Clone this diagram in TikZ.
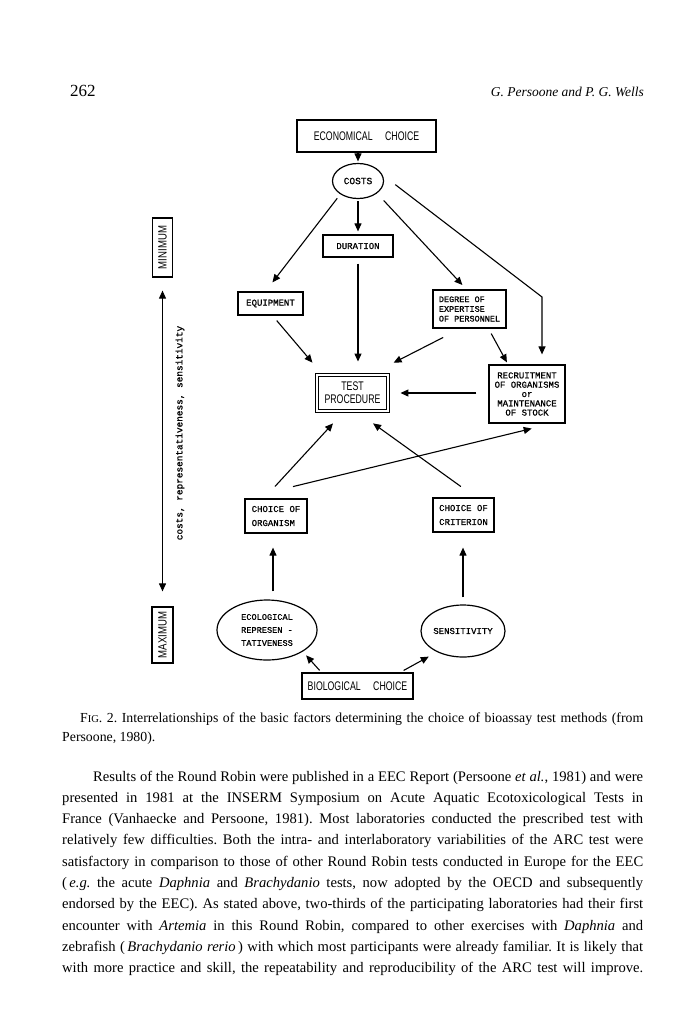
\documentclass[tikz,border=0pt]{standalone}
\usepackage{graphicx}
\usepackage{fontspec}
\setmainfont{Liberation Serif}
\newfontfamily\tw[FakeBold=1]{Liberation Mono}
\newfontfamily\cond[FakeStretch=0.7]{Liberation Sans}
\newfontfamily\condb[FakeStretch=0.8]{Liberation Sans}
\usetikzlibrary{arrows.meta,shapes.geometric}
\frenchspacing
\begin{document}
\begin{tikzpicture}[x=1pt,y=-1pt,
  box/.style={draw, line width=1.2pt, rectangle, inner sep=0pt},
  oval/.style={draw, line width=1.2pt, ellipse, inner sep=0pt},
  ln/.style={line width=1.1pt},
  arr/.style={ln, -{Triangle[length=8pt,width=7pt]}},
  darr/.style={line width=1pt, {Triangle[length=8pt,width=7pt]}-{Triangle[length=8pt,width=7pt]}},
  sanstext/.style={font=\cond\fontsize{12.5}{13}\selectfont},
  twtext/.style={font=\tw\fontsize{9}{9.3}\selectfont},
  txt/.style={anchor=base west, inner sep=0pt, font=\frenchspacing\fontsize{14.6}{16}\selectfont},
  captext/.style={anchor=base west, inner sep=0pt, font=\frenchspacing\fontsize{13.8}{15}\selectfont}]
\useasboundingbox (0,0) rectangle (690,1020);

% header
\node[anchor=base west, inner sep=0pt, font=\fontsize{17}{18}\selectfont] (pg) at (70,96) {262};
\node[anchor=base east, inner sep=0pt, font=\itshape\fontsize{13.5}{15}\selectfont] (auth) at (644,96) {G. Persoone and P. G. Wells};

% nodes
\node[box, sanstext, minimum width=139pt, minimum height=32pt] (econ) at (366.5,136) {ECONOMICAL\quad CHOICE};
\node[oval, minimum width=51pt, minimum height=35pt, font=\tw\fontsize{9.5}{10}\selectfont] (costs) at (358,181) {COSTS};
\node[box, twtext, minimum width=70pt, minimum height=22pt] (dur) at (358,246) {DURATION};
\node[box, twtext, minimum width=65pt, minimum height=23pt] (equip) at (270.5,303.5) {EQUIPMENT};
\node[box, minimum width=73pt, minimum height=38pt, align=left, font=\tw\fontsize{8.5}{9.7}\selectfont] (deg) at (469.5,309) {DEGREE OF\\EXPERTISE\\OF PERSONNEL};
\node[draw, double, double distance=1.8pt, line width=0.9pt, inner sep=0pt, minimum width=71pt, minimum height=36pt, align=center, sanstext] (test) at (352.5,393) {TEST\\PROCEDURE};
\node[box, minimum width=76pt, minimum height=58pt, align=center, twtext] (recruit) at (527,394) {RECRUITMENT\\OF ORGANISMS\\or\\MAINTENANCE\\OF STOCK};
\node[box, minimum width=62pt, minimum height=34pt, align=left, font=\tw\fontsize{9}{14}\selectfont] (org) at (276,516) {CHOICE OF\\ORGANISM};
\node[box, minimum width=61pt, minimum height=34pt, align=left, font=\tw\fontsize{9}{14}\selectfont] (crit) at (463.5,515) {CHOICE OF\\CRITERION};
\node[oval, minimum width=100pt, minimum height=60pt, align=left, font=\tw\fontsize{8.6}{13}\selectfont] (eco) at (267,630) {ECOLOGICAL\\REPRESEN -\\TATIVENESS};
\node[oval, minimum width=80pt, minimum height=52pt, twtext] (sens) at (463,631) {SENSITIVITY};
\node[box, sanstext, minimum width=111pt, minimum height=26pt] (bio) at (357.5,686) {BIOLOGICAL\quad CHOICE};

% left scale
\node[box, minimum width=20pt, minimum height=59pt] (minb) at (162.5,247.5) {\rotatebox{90}{\condb\fontsize{12}{12}\selectfont MINIMUM}};
\node[box, minimum width=21pt, minimum height=56pt] (maxb) at (162.5,635) {\rotatebox{90}{\condb\fontsize{12}{12}\selectfont MAXIMUM}};
\node[rotate=90, inner sep=0pt, font=\tw\fontsize{9.4}{10}\selectfont] (axis) at (180,433) {costs, representativeness, sensitivity};
\draw[darr, shorten <=13pt, shorten >=15pt] (minb.south) -- (maxb.north);

% connectors
\draw[arr, shorten >=1.5pt] (costs.north |- econ.south) -- (costs.north);
\draw[arr, shorten <=2pt, shorten >=3pt] (costs.south) -- (dur.north);
\draw[arr, shorten <=5pt, shorten >=11.4pt] (costs.217) -- ([xshift=-5pt]equip.north);
\draw[arr, shorten <=9.7pt, shorten >=6pt] (costs.327) -- ([xshift=-3pt]deg.north);
\coordinate (bend) at (542,297);
\draw[arr, shorten <=16pt, shorten >=10pt] (costs.14) -- (bend) -- (bend |- recruit.north);
\draw[arr, shorten <=6pt, shorten >=13pt] (dur.south) -- (dur.south |- test.north);
\draw[arr, shorten <=6.5pt, shorten >=15.6pt] ([xshift=2pt]equip.south) -- ([xshift=6pt]test.north west);
\draw[arr, shorten <=19.5pt, shorten >=26pt] ([xshift=-9pt]deg.south) -- ([xshift=-18pt]test.north east);
\draw[arr, shorten <=5.7pt, shorten >=2.3pt] ([xshift=19pt]deg.south) -- ([xshift=-19pt]recruit.north);
\draw[arr, shorten <=12pt, shorten >=12pt] (test.east -| recruit.west) -- (test.east);
\draw[arr, shorten <=16.2pt, shorten >=16.2pt] ([xshift=-12pt]org.north) -- ([xshift=-8.5pt]test.south);
\draw[arr, shorten <=18.6pt, shorten >=20.4pt] ([xshift=12.5pt]crit.north) -- ([xshift=4pt]test.south);
\draw[arr, shorten <=50pt, shorten >=20.9pt] (org.north west) -- ([xshift=25pt]recruit.south);
\draw[arr, shorten <=8pt, shorten >=14pt] ([xshift=6pt]eco.north) -- ([xshift=6pt]eco.north |- org.south);
\draw[arr, shorten <=7pt, shorten >=15pt] (sens.north) -- (sens.north |- crit.south);
\draw[arr, shorten <=2.7pt, shorten >=5pt] ([xshift=20pt]bio.north west) -- (eco.south east);
\draw[arr, shorten <=4pt, shorten >=9.4pt] ([xshift=-13.5pt]bio.north east) -- (sens.219.5);

% caption
\node[captext] (c1) at (80,722) {\makebox[563pt][s]{F{\fontsize{10.5}{11}\selectfont IG}. 2. Interrelationships of the basic factors determining the choice of bioassay test methods (from}};
\node[captext] (c2) at (62,741) {Persoone, 1980).};

% body
\node[txt] (b1) at (93,781) {\makebox[550pt][s]{Results of the Round Robin were published in a EEC Report (Persoone \textit{et al.}, 1981) and were}};
\node[txt] (b2) at (62,802.3) {\makebox[581pt][s]{presented in 1981 at the INSERM Symposium on Acute Aquatic Ecotoxicological Tests in}};
\node[txt] (b3) at (62,823.6) {\makebox[581pt][s]{France (Vanhaecke and Persoone, 1981). Most laboratories conducted the prescribed test with}};
\node[txt] (b4) at (62,844.9) {\makebox[581pt][s]{relatively few difficulties. Both the intra- and interlaboratory variabilities of the ARC test were}};
\node[txt] (b5) at (62,866.2) {\makebox[581pt][s]{satisfactory in comparison to those of other Round Robin tests conducted in Europe for the EEC}};
\node[txt] (b6) at (62,887.5) {\makebox[581pt][s]{(\,\textit{e.g.} the acute \textit{Daphnia} and \textit{Brachydanio} tests, now adopted by the OECD and subsequently}};
\node[txt] (b7) at (62,908.8) {\makebox[581pt][s]{endorsed by the EEC). As stated above, two-thirds of the participating laboratories had their first}};
\node[txt] (b8) at (62,930.1) {\makebox[581pt][s]{encounter with \textit{Artemia} in this Round Robin, compared to other exercises with \textit{Daphnia} and}};
\node[txt] (b9) at (62,951.4) {\makebox[581pt][s]{zebrafish (\,\textit{Brachydanio rerio}\,) with which most participants were already familiar. It is likely that}};
\node[txt] (b10) at (62,972.7) {\makebox[581pt][s]{with more practice and skill, the repeatability and reproducibility of the ARC test will improve.}};
\end{tikzpicture}
\end{document}
